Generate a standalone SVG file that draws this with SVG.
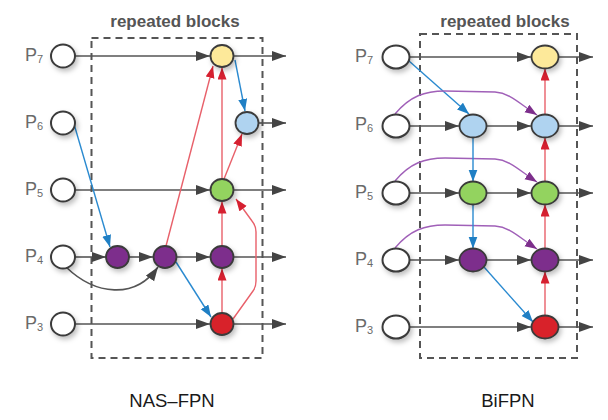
<svg xmlns="http://www.w3.org/2000/svg" width="608" height="420" viewBox="0 0 608 420">
<style>
.title{font-family:"Liberation Sans",Arial,sans-serif;font-weight:bold;font-size:17px;fill:#555;text-anchor:middle}
.cap{font-family:"Liberation Sans",Arial,sans-serif;font-size:18.5px;fill:#1a1a1a;text-anchor:middle}
.lbl{font-family:"Liberation Sans",Arial,sans-serif;font-size:18px;fill:#6a6a6a}
.sub{font-size:11px}
.box{fill:none;stroke:#555;stroke-width:2;stroke-dasharray:7 5}
.g{fill:none;stroke:#555;stroke-width:1.6;marker-end:url(#ag)}
.r{fill:none;stroke:#E8606A;stroke-width:1.4;marker-end:url(#ar)}
.b{fill:none;stroke:#2A8AD0;stroke-width:1.4;marker-end:url(#ab)}
.p{fill:none;stroke:#A060B8;stroke-width:1.4;marker-end:url(#ap)}
.n{stroke:#3a3a3a;stroke-width:1.8;filter:url(#sh)}
.in{fill:#fff;stroke:#3a3a3a;stroke-width:2;filter:url(#sh)}
.yel{fill:#FDE99A}.blu{fill:#AFD3F0}.grn{fill:#93D35E}.pur{fill:#7D2F8C}.red{fill:#D8232A}
</style>
<defs>
<filter id="sh" x="-50%" y="-50%" width="200%" height="200%">
<feDropShadow dx="2" dy="3" stdDeviation="2.5" flood-color="#000" flood-opacity="0.25"/>
</filter>
<marker id="ag" markerUnits="userSpaceOnUse" markerWidth="15" markerHeight="11" refX="14" refY="5" orient="auto"><path d="M0,0 L14,5 L0,10 z" fill="#444"/></marker>
<marker id="ar" markerUnits="userSpaceOnUse" markerWidth="13" markerHeight="10" refX="12" refY="4.5" orient="auto"><path d="M0,0 L12,4.5 L0,9 z" fill="#D62030"/></marker>
<marker id="ab" markerUnits="userSpaceOnUse" markerWidth="13" markerHeight="10" refX="12" refY="4.5" orient="auto"><path d="M0,0 L12,4.5 L0,9 z" fill="#1F7FC4"/></marker>
<marker id="ap" markerUnits="userSpaceOnUse" markerWidth="13" markerHeight="10" refX="12" refY="4.5" orient="auto"><path d="M0,0 L12,4.5 L0,9 z" fill="#7D2F8C"/></marker>
</defs>

<text class="title" x="175" y="27">repeated blocks</text>
<text class="title" x="505" y="27">repeated blocks</text>
<rect class="box" x="91.5" y="38" width="171" height="320"/>
<rect class="box" x="420" y="34" width="157" height="324"/>
<text class="cap" x="172" y="407">NAS–FPN</text>
<text class="cap" x="508" y="407">BiFPN</text>

<g id="labels">
<text class="lbl" x="25" y="61">P<tspan class="sub" dy="2">7</tspan></text>
<text class="lbl" x="25" y="128">P<tspan class="sub" dy="2">6</tspan></text>
<text class="lbl" x="25" y="195">P<tspan class="sub" dy="2">5</tspan></text>
<text class="lbl" x="25" y="262">P<tspan class="sub" dy="2">4</tspan></text>
<text class="lbl" x="25" y="329">P<tspan class="sub" dy="2">3</tspan></text>
<text class="lbl" x="355" y="62">P<tspan class="sub" dy="2">7</tspan></text>
<text class="lbl" x="355" y="130">P<tspan class="sub" dy="2">6</tspan></text>
<text class="lbl" x="355" y="198">P<tspan class="sub" dy="2">5</tspan></text>
<text class="lbl" x="355" y="265">P<tspan class="sub" dy="2">4</tspan></text>
<text class="lbl" x="355" y="332">P<tspan class="sub" dy="2">3</tspan></text>
</g>

<g id="connectors">
<!-- NAS-FPN -->
<line class="g" x1="75" y1="56" x2="210" y2="56"/>
<line class="g" x1="234" y1="56" x2="286" y2="56"/>
<line class="g" x1="259" y1="123" x2="286" y2="123"/>
<line class="g" x1="75" y1="190" x2="210" y2="190"/>
<line class="g" x1="234" y1="190" x2="286" y2="190"/>
<line class="g" x1="75" y1="257" x2="106" y2="257"/>
<line class="g" x1="129" y1="257" x2="153" y2="257"/>
<line class="g" x1="177" y1="257" x2="210" y2="257"/>
<line class="g" x1="234" y1="257" x2="286" y2="257"/>
<line class="g" x1="75" y1="324" x2="210" y2="324"/>
<line class="g" x1="234" y1="324" x2="286" y2="324"/>
<path class="g" d="M66,267 C95,295 135,300 158,267"/>
<line class="b" x1="74" y1="124" x2="110" y2="247"/>
<line class="r" x1="166" y1="246" x2="213" y2="66"/>
<line class="b" x1="176" y1="262" x2="211" y2="317"/>
<line class="r" x1="222" y1="312.5" x2="222" y2="268.5"/>
<line class="r" x1="222" y1="245.5" x2="222" y2="201.5"/>
<line class="r" x1="222" y1="178.5" x2="222" y2="67.5"/>
<line class="r" x1="224" y1="179" x2="242" y2="134"/>
<line class="b" x1="235" y1="60" x2="245" y2="111"/>
<path class="r" d="M233,319 L253,291 Q256,287 256,281 L256,232 Q256,226 252,221 L236,199"/>
<!-- BiFPN -->
<line class="g" x1="410" y1="57" x2="531" y2="57"/>
<line class="g" x1="559" y1="57" x2="593" y2="57"/>
<line class="b" x1="409" y1="61" x2="469" y2="114"/>
<line class="g" x1="410" y1="126" x2="459" y2="126"/>
<line class="g" x1="487" y1="126" x2="531" y2="126"/>
<line class="g" x1="559" y1="126" x2="593" y2="126"/>
<line class="g" x1="410" y1="193" x2="459" y2="193"/>
<line class="g" x1="487" y1="193" x2="531" y2="193"/>
<line class="g" x1="559" y1="193" x2="593" y2="193"/>
<line class="g" x1="410" y1="260" x2="459" y2="260"/>
<line class="g" x1="487" y1="260" x2="531" y2="260"/>
<line class="g" x1="559" y1="260" x2="593" y2="260"/>
<line class="g" x1="410" y1="327" x2="531" y2="327"/>
<line class="g" x1="559" y1="327" x2="593" y2="327"/>
<path class="p" d="M395,114 C410,96 425,91 445,91 L495,92 C510,93 520,104 537,115"/>
<path class="p" d="M395,181 C410,163 425,158 445,158 L495,159 C510,160 520,171 537,182"/>
<path class="p" d="M395,248 C410,230 425,225 445,225 L495,226 C510,227 520,238 537,249"/>
<line class="b" x1="473" y1="137.5" x2="473" y2="181.5"/>
<line class="b" x1="473" y1="204.5" x2="473" y2="248.5"/>
<line class="b" x1="484" y1="267" x2="533" y2="322"/>
<line class="r" x1="545" y1="315.5" x2="545" y2="271.5"/>
<line class="r" x1="545" y1="248.5" x2="545" y2="204.5"/>
<line class="r" x1="545" y1="181.5" x2="545" y2="137.5"/>
<line class="r" x1="545" y1="114.5" x2="545" y2="68.5"/>
</g>

<g id="nas-inputs">
<ellipse id="nas-p7" class="in" cx="63" cy="56" rx="12" ry="11.5"/>
<ellipse id="nas-p6" class="in" cx="63" cy="123" rx="12" ry="11.5"/>
<ellipse id="nas-p5" class="in" cx="63" cy="190" rx="12" ry="11.5"/>
<ellipse id="nas-p4" class="in" cx="63" cy="257" rx="12" ry="11.5"/>
<ellipse id="nas-p3" class="in" cx="63" cy="324" rx="12" ry="11.5"/>
</g>
<g id="nas-yellow"><ellipse class="n yel" cx="222" cy="56" rx="11.5" ry="11"/></g>
<g id="nas-blue"><ellipse class="n blu" cx="247" cy="123" rx="11.5" ry="11"/></g>
<g id="nas-green"><ellipse class="n grn" cx="222" cy="190" rx="11.5" ry="11"/></g>
<g id="nas-purple1"><ellipse class="n pur" cx="117.5" cy="257" rx="11.5" ry="11"/></g>
<g id="nas-purple2"><ellipse class="n pur" cx="165" cy="257" rx="11.5" ry="11"/></g>
<g id="nas-purple3"><ellipse class="n pur" cx="222" cy="257" rx="11.5" ry="11"/></g>
<g id="nas-red"><ellipse class="n red" cx="222" cy="324" rx="11.5" ry="11"/></g>

<g id="bifpn-inputs">
<ellipse id="bi-p7" class="in" cx="396" cy="57" rx="13.5" ry="11.5"/>
<ellipse id="bi-p6" class="in" cx="396" cy="126" rx="13.5" ry="11.5"/>
<ellipse id="bi-p5" class="in" cx="396" cy="193" rx="13.5" ry="11.5"/>
<ellipse id="bi-p4" class="in" cx="396" cy="260" rx="13.5" ry="11.5"/>
<ellipse id="bi-p3" class="in" cx="396" cy="327" rx="13.5" ry="11.5"/>
</g>
<g id="bi-blue1"><ellipse class="n blu" cx="473" cy="126" rx="13.5" ry="11.5"/></g>
<g id="bi-green1"><ellipse class="n grn" cx="473" cy="193" rx="13.5" ry="11.5"/></g>
<g id="bi-purple1"><ellipse class="n pur" cx="473" cy="260" rx="13.5" ry="11.5"/></g>
<g id="bi-yellow"><ellipse class="n yel" cx="545" cy="57" rx="13.5" ry="11.5"/></g>
<g id="bi-blue2"><ellipse class="n blu" cx="545" cy="126" rx="13.5" ry="11.5"/></g>
<g id="bi-green2"><ellipse class="n grn" cx="545" cy="193" rx="13.5" ry="11.5"/></g>
<g id="bi-purple2"><ellipse class="n pur" cx="545" cy="260" rx="13.5" ry="11.5"/></g>
<g id="bi-red"><ellipse class="n red" cx="545" cy="327" rx="13.5" ry="11.5"/></g>
</svg>
